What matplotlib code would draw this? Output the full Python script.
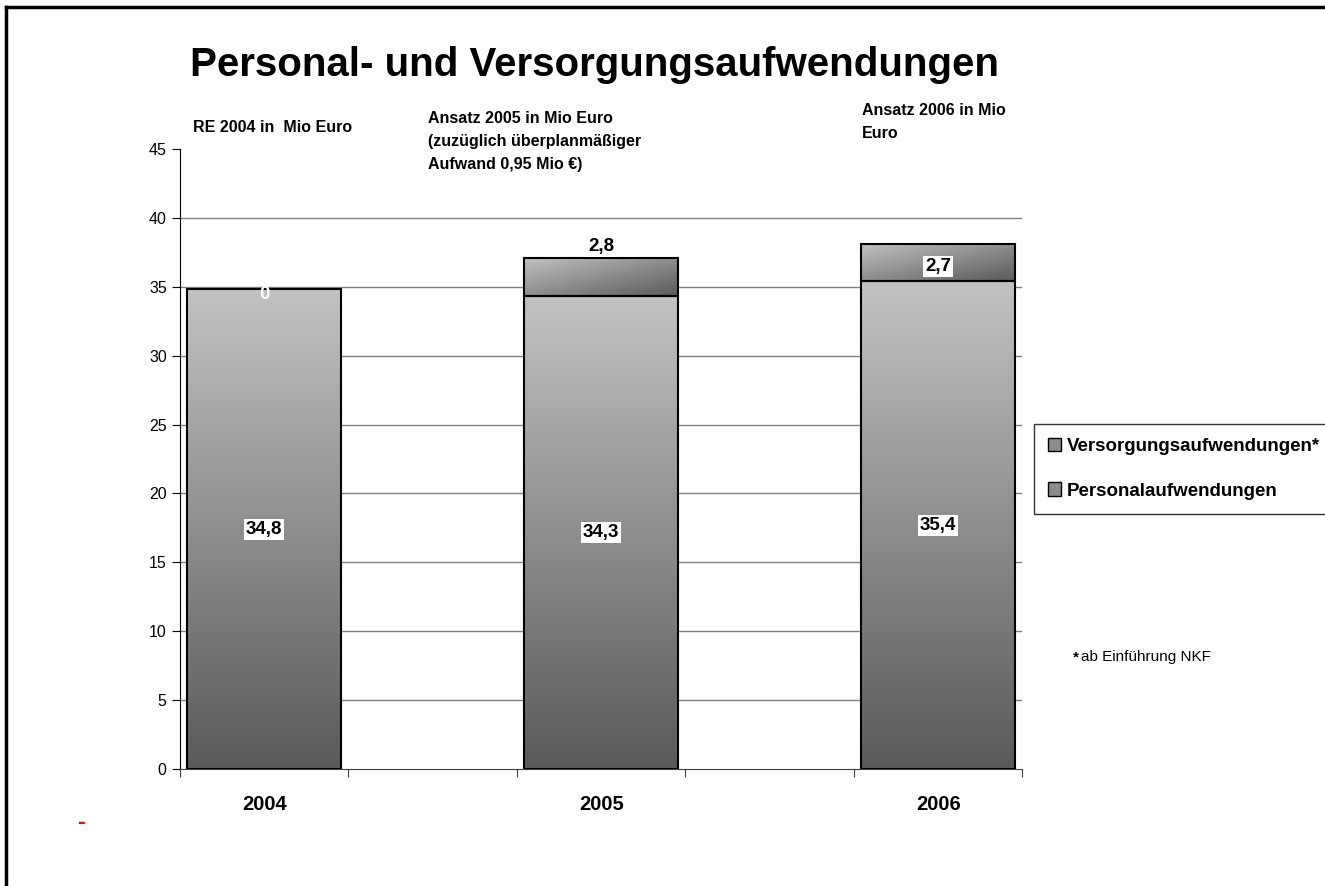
import matplotlib
matplotlib.use("Agg")
import matplotlib.pyplot as plt
import numpy as np
from matplotlib.patches import Patch
from matplotlib.lines import Line2D
from matplotlib.colors import LinearSegmentedColormap

plt.rcParams['font.family'] = ['Liberation Sans', 'DejaVu Sans']

years = ["2004", "2005", "2006"]
personal = [34.8, 34.3, 35.4]
versorgung = [0, 2.8, 2.7]
personal_labels = ["34,8", "34,3", "35,4"]
versorgung_labels = ["0", "2,8", "2,7"]

pos = [0, 2, 4]
width = 0.915

grey = LinearSegmentedColormap.from_list("grey", ["#5a5a5a", "#c2c2c2"])

fig = plt.figure(figsize=(13.25, 8.86), dpi=100)
ax = fig.add_axes([0.1358, 0.1321, 0.6358, 0.6998])

# vertical gradient for the lower segment, diagonal for the top one
vgrad = np.linspace(0, 1, 256).reshape(-1, 1)
xx, yy = np.meshgrid(np.linspace(0, 1, 64), np.linspace(0, 1, 64))
dgrad = (yy + (1 - xx)) / 2

for i, x in enumerate(pos):
    b1 = ax.bar(x, personal[i], width, color="none", edgecolor="black", linewidth=1.5, zorder=3)[0]
    im = ax.imshow(vgrad, cmap=grey, origin="lower", aspect="auto",
                   extent=[x - width / 2, x + width / 2, 0, personal[i]], zorder=2)
    im.set_clip_path(b1)
    if versorgung[i] > 0:
        b2 = ax.bar(x, versorgung[i], width, bottom=personal[i], color="none",
                    edgecolor="black", linewidth=1.5, zorder=3)[0]
        im2 = ax.imshow(dgrad, cmap=grey, origin="lower", aspect="auto",
                        extent=[x - width / 2, x + width / 2, personal[i], personal[i] + versorgung[i]],
                        zorder=2)
        im2.set_clip_path(b2)

# value labels
box = dict(facecolor="white", edgecolor="none", pad=1.5)
for i, x in enumerate(pos):
    ax.text(x, personal[i] / 2, personal_labels[i], ha="center", va="center",
            fontsize=13.5, fontweight="bold", bbox=box, zorder=5)
ax.text(pos[0], personal[0] - 0.35, versorgung_labels[0], ha="center", va="center",
        fontsize=13.5, fontweight="bold", color="white", zorder=5)
ax.text(pos[1], 37.9, versorgung_labels[1], ha="center", va="center",
        fontsize=13.5, fontweight="bold", bbox=box, zorder=5)
ax.text(pos[2], 36.45, versorgung_labels[2], ha="center", va="center",
        fontsize=13.5, fontweight="bold", bbox=box, zorder=5)

ax.set_xlim(-0.5, 4.5)
ax.set_ylim(0, 45)
ax.set_yticks(range(0, 46, 5))
ax.tick_params(axis="y", labelsize=11.5, length=6, direction="out")
ax.set_xticks(np.arange(-0.5, 4.6, 1))
ax.set_xticklabels([])
ax.tick_params(axis="x", which="major", length=6, color="#404040")
ax.set_xticks(pos, minor=True)
ax.set_xticklabels(years, minor=True, fontsize=14.5, fontweight="bold")
ax.tick_params(axis="x", which="minor", length=0, pad=19)
for y in range(5, 45, 5):
    ax.axhline(y, color="#808080", linewidth=1, zorder=1)
ax.spines["top"].set_visible(False)
ax.spines["right"].set_visible(False)
ax.spines["bottom"].set_color("#404040")

fig.text(190 / 1325, 1 - 65 / 886, "Personal- und Versorgungsaufwendungen",
         fontsize=29, fontweight="bold", va="center", ha="left")
fig.text(193 / 1325, 1 - 128 / 886, "RE 2004 in  Mio Euro", fontsize=11.5,
         fontweight="bold", va="center")
fig.text(428 / 1325, 1 - 111 / 886,
         "Ansatz 2005 in Mio Euro\n(zuzüglich überplanmäßiger\nAufwand 0,95 Mio €)",
         fontsize=11.5, fontweight="bold", va="top", linespacing=1.68)
fig.text(862 / 1325, 1 - 103 / 886, "Ansatz 2006 in Mio\nEuro", fontsize=11.5,
         fontweight="bold", va="top", linespacing=1.68)

fig.text(1073 / 1325, 1 - 657 / 886, "*", fontsize=11, fontweight="bold", va="center")
fig.text(1081 / 1325, 1 - 657 / 886, "ab Einführung NKF", fontsize=11, va="center")
fig.text(81 / 1325, 1 - 822 / 886, "-", fontsize=17, fontweight="bold", color="red",
         va="center", ha="center")

handles = [Patch(facecolor="#8c8c8c", edgecolor="black", label="Versorgungsaufwendungen*"),
           Patch(facecolor="#8c8c8c", edgecolor="black", label="Personalaufwendungen")]
leg = fig.legend(handles=handles, loc="upper left", bbox_to_anchor=(1034 / 1325, 1 - 424 / 886),
                 frameon=True, fancybox=False, edgecolor="black", prop={"weight": "bold", "size": 13.5},
                 handlelength=0.7, handleheight=0.7, handletextpad=0.3, labelspacing=1.45,
                 borderpad=0.75, borderaxespad=0)
leg.get_frame().set_linewidth(1)

# outer frame of the sheet
fig.add_artist(Line2D([6 / 1325, 6 / 1325], [0, 1 - 7 / 886], color="black", linewidth=2.5))
fig.add_artist(Line2D([6 / 1325, 1], [1 - 7 / 886, 1 - 7 / 886], color="black", linewidth=2.5))

fig.savefig("out.png", dpi=100)
